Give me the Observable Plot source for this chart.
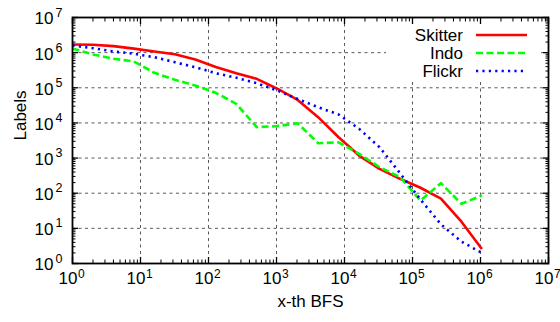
<!DOCTYPE html>
<html>
<head>
<meta charset="utf-8">
<script src="https://cdn.jsdelivr.net/npm/d3@7"></script>
<script src="https://cdn.jsdelivr.net/npm/@observablehq/plot@0.6"></script>
<style>
  html, body { margin: 0; padding: 0; background: #fff; }
  #chart svg { display: block; }
</style>
</head>
<body>
<div id="chart"></div>
<script>
// x positions (x-th BFS)
const xs = [1, 2, 4, 8, 16, 32, 64, 128, 256, 512, 1024, 2048, 4096, 8192, 16384, 32768, 65536, 131072, 262144, 524288, 1048576];
// series values (Labels)
const skitter = [1.71e6, 1.67e6, 1.53e6, 1.3e6, 1.08e6, 9.0e5, 6.4e5, 3.9e5, 2.6e5, 1.8e5, 9.4e4, 4.5e4, 1.46e4, 3.9e3, 1.18e3, 495, 257, 143, 70, 15.5, 2.6];
const indo    = [1.31e6, 8.9e5, 6.7e5, 5.6e5, 2.67e5, 1.69e5, 1.16e5, 7.2e4, 3.5e4, 7.6e3, 8.1e3, 9.8e3, 2.65e3, 2.8e3, 1.32e3, 550, 286, 62, 193, 50, 86];
const flickr  = [1.6e6, 1.34e6, 1.08e6, 9.3e5, 7.4e5, 5.35e5, 3.86e5, 2.6e5, 1.93e5, 1.35e5, 8.4e4, 4.8e4, 2.8e4, 1.74e4, 6.8e3, 2.04e3, 370, 66, 13, 4.2, 2.0];
const seriesNames = ["Skitter", "Indo", "Flickr"];
const seriesColors = ["#ff0000", "#00ff00", "#0000ff"];
const seriesDash = [null, "7,3.5", "2.2,4.2"];
// tick labels: decades 10^0 .. 10^7
const exponents = [0, 1, 2, 3, 4, 5, 6, 7];
const decades = exponents.map(e => Math.pow(10, e));
const minorMultipliers = [2, 3, 4, 5, 6, 7, 8, 9];
const minorTicks = decades.slice(0, -1).flatMap(d => minorMultipliers.map(m => m * d));
const innerGrid = decades.slice(1, -1);

const rows = (vals, name) => xs.map((x, i) => ({x, y: vals[i], name}));
const allSeries = [rows(skitter, "Skitter"), rows(indo, "Indo"), rows(flickr, "Flickr")];
const ticks = exponents.map(e => ({v: Math.pow(10, e), e: String(e)}));

const FONT = "'Liberation Sans', Arial, Helvetica, sans-serif";

const chart = Plot.plot({
  width: 560,
  height: 322,
  marginLeft: 72,
  marginRight: 12,
  marginTop: 17,
  marginBottom: 59,
  style: {fontFamily: FONT, background: "#fff", color: "#000", overflow: "visible"},
  x: {type: "log", domain: [1, 1e7]},
  y: {type: "log", domain: [1, 1e7]},
  marks: [
    Plot.gridX(innerGrid, {stroke: "#333", strokeOpacity: 0.9, strokeWidth: 0.9, strokeDasharray: "3,3.5"}),
    Plot.gridY(innerGrid, {stroke: "#333", strokeOpacity: 0.9, strokeWidth: 0.9, strokeDasharray: "3,3.5"}),
    // inward ticks on all four sides
    Plot.axisX(decades, {anchor: "bottom", tickSize: -6, tickFormat: () => "", label: null, strokeWidth: 1.3}),
    Plot.axisX(decades, {anchor: "top", tickSize: -6, tickFormat: () => "", label: null, strokeWidth: 1.3}),
    Plot.axisX(minorTicks, {anchor: "bottom", tickSize: -3.5, tickFormat: () => "", label: null, strokeWidth: 1}),
    Plot.axisX(minorTicks, {anchor: "top", tickSize: -3.5, tickFormat: () => "", label: null, strokeWidth: 1}),
    Plot.axisY(decades, {anchor: "left", tickSize: -6, tickFormat: () => "", label: null, strokeWidth: 1.3}),
    Plot.axisY(decades, {anchor: "right", tickSize: -6, tickFormat: () => "", label: null, strokeWidth: 1.3}),
    Plot.axisY(minorTicks, {anchor: "left", tickSize: -3.5, tickFormat: () => "", label: null, strokeWidth: 1}),
    Plot.axisY(minorTicks, {anchor: "right", tickSize: -3.5, tickFormat: () => "", label: null, strokeWidth: 1}),
    // data lines
    ...allSeries.map((s, i) => Plot.line(s, {
      x: "x", y: "y", stroke: seriesColors[i], strokeWidth: 2.6,
      strokeDasharray: seriesDash[i], strokeLinecap: "butt", strokeLinejoin: "round"
    })),
    Plot.frame({stroke: "#000", strokeWidth: 1.8}),
    // x tick labels: 10^e
    Plot.text(ticks, {x: "v", text: () => "10", frameAnchor: "bottom", dy: 20, dx: 5, textAnchor: "end", fontSize: 17, fill: "#000"}),
    Plot.text(ticks, {x: "v", text: "e", frameAnchor: "bottom", dy: 14, dx: 5.5, textAnchor: "start", fontSize: 12, fill: "#000"}),
    // y tick labels: 10^e
    Plot.text(ticks, {y: "v", text: () => "10", frameAnchor: "left", dx: -19, dy: 1.5, textAnchor: "end", fontSize: 17, fill: "#000"}),
    Plot.text(ticks, {y: "v", text: "e", frameAnchor: "left", dx: -10, dy: -5, textAnchor: "end", fontSize: 12.5, fill: "#000"}),
    // axis labels
    Plot.text(["x-th BFS"], {text: d => d, frameAnchor: "bottom", dy: 43, fontSize: 17, fill: "#000"}),
    Plot.text(["Labels"], {text: d => d, frameAnchor: "left", dx: -52, rotate: -90, fontSize: 17, fill: "#000"})
  ]
});

// Legend (top-right, inside the frame, with a white background hiding the grid)
const svg = d3.select(chart);
const gridGroups = chart.querySelectorAll('g[aria-label="y-grid"], g[aria-label="x-grid"]');
const lastGrid = gridGroups[gridGroups.length - 1];
const bg = document.createElementNS("http://www.w3.org/2000/svg", "rect");
bg.setAttribute("x", 386); bg.setAttribute("y", 24);
bg.setAttribute("width", 155); bg.setAttribute("height", 56);
bg.setAttribute("fill", "#fff");
lastGrid.parentNode.insertBefore(bg, lastGrid.nextSibling);

const legend = svg.append("g").attr("font-family", FONT).attr("font-size", 17);
seriesNames.forEach((name, i) => {
  const yy = 35 + i * 18;
  legend.append("text").attr("x", 463).attr("y", yy).attr("dy", "0.35em")
    .attr("text-anchor", "end").attr("fill", "#000").text(name);
  legend.append("line").attr("x1", 476).attr("x2", 527).attr("y1", yy).attr("y2", yy)
    .attr("stroke", seriesColors[i]).attr("stroke-width", 2.6)
    .attr("stroke-dasharray", seriesDash[i]);
});

document.getElementById("chart").appendChild(chart);
</script>
</body>
</html>
